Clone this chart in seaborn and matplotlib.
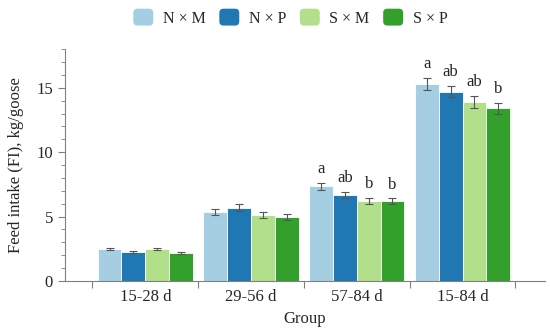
import matplotlib
matplotlib.use("Agg")
import matplotlib.pyplot as plt
from matplotlib.patches import FancyBboxPatch
from matplotlib.legend_handler import HandlerPatch
from matplotlib.ticker import MultipleLocator, FixedLocator
import numpy as np
import pandas as pd
import seaborn as sns

# data
groups = ["15-28 d", "29-56 d", "57-84 d", "15-84 d"]
treatments = ["N × M", "N × P", "S × M", "S × P"]

fi_nm = [2.48, 5.37, 7.36, 15.30]
fi_np = [2.25, 5.68, 6.67, 14.70]
fi_sm = [2.46, 5.12, 6.22, 13.90]
fi_sp = [2.17, 4.98, 6.18, 13.40]

se_nm = [0.10, 0.25, 0.28, 0.46]
se_np = [0.09, 0.27, 0.24, 0.44]
se_sm = [0.10, 0.25, 0.23, 0.46]
se_sp = [0.09, 0.24, 0.22, 0.42]

letters_nm = ["", "", "a", "a"]
letters_np = ["", "", "ab", "ab"]
letters_sm = ["", "", "b", "ab"]
letters_sp = ["", "", "b", "b"]

colors = ["#a6cee3", "#1f78b4", "#b2df8a", "#33a02c"]

values = [fi_nm, fi_np, fi_sm, fi_sp]
errors = [se_nm, se_np, se_sm, se_sp]
letters = [letters_nm, letters_np, letters_sm, letters_sp]

df = pd.DataFrame({
    "Group": np.tile(groups, len(treatments)),
    "Treatment": np.repeat(treatments, len(groups)),
    "FI": np.concatenate(values),
})

sns.set_style("ticks")
plt.rcParams["font.family"] = ["Liberation Serif", "DejaVu Serif"]
plt.rcParams["font.size"] = 12


def rounded_patch(legend, orig_handle, xdescent, ydescent, width, height, fontsize):
    # rounded square legend keys like the reference
    return FancyBboxPatch((-xdescent, -ydescent), width, height,
                          boxstyle="round,pad=0,rounding_size=3")


fig = plt.figure(figsize=(5.5, 3.32), dpi=100)
ax = fig.add_axes([0.118, 0.154, 0.873, 0.698])

sns.barplot(data=df, x="Group", y="FI", hue="Treatment", order=groups,
            hue_order=treatments, palette=colors, errorbar=None, width=0.9,
            edgecolor="white", linewidth=0.6, saturation=1, legend=False, ax=ax)

# error bars and significance letters on top of each bar
for cont, err, lets in zip(ax.containers, errors, letters):
    for bar, e, lab in zip(cont, err, lets):
        xc = bar.get_x() + bar.get_width() / 2
        h = bar.get_height()
        ax.errorbar(xc, h, yerr=e, color="#555555", elinewidth=0.8,
                    capsize=3, capthick=0.8, fmt="none")
        if lab:
            ax.text(xc, h + e + 0.45, lab, ha="center", va="bottom", fontsize=12)

ax.set_ylim(0, 18)
ax.set_xlim(-0.76, 3.78)
ax.yaxis.set_major_locator(MultipleLocator(5))
ax.yaxis.set_minor_locator(MultipleLocator(1))

# x ticks sit between the groups, labels in the middle
ax.xaxis.set_major_locator(FixedLocator([-0.5, 0.5, 1.5, 2.5, 3.5]))
ax.xaxis.set_minor_locator(FixedLocator([0, 1, 2, 3]))
ax.set_xticklabels([""] * 5)
ax.set_xticklabels(groups, minor=True)
ax.tick_params(axis="x", which="minor", length=0, pad=6, labelsize=12)
ax.tick_params(axis="x", which="major", length=5, color="#808080")
ax.tick_params(axis="y", which="major", length=5, color="#808080", labelsize=12)
ax.tick_params(axis="y", which="minor", length=3, color="#808080")

for side in ["left", "bottom"]:
    ax.spines[side].set_color("#808080")
sns.despine(ax=ax)

ax.set_xlabel("Group", fontsize=12, labelpad=4)
ax.set_ylabel("Feed intake (FI), kg/goose", fontsize=12, labelpad=9)

handles = [plt.Rectangle((0, 0), 1, 1, facecolor=c, edgecolor="none") for c in colors]
fig.legend(handles, treatments, loc="center", bbox_to_anchor=(0.528, 0.947),
           ncol=4, frameon=False, fontsize=11.5, handlelength=1.25,
           handleheight=1.25, columnspacing=0.85, handletextpad=0.6,
           handler_map={plt.Rectangle: HandlerPatch(patch_func=rounded_patch)})

fig.savefig("out.png", dpi=100)
